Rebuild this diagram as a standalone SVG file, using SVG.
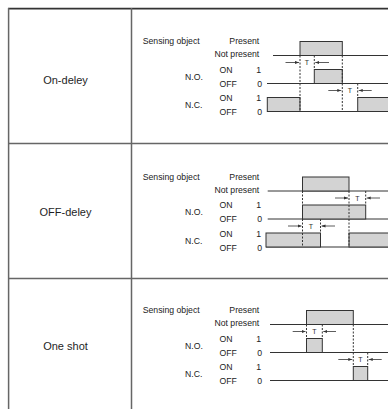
<svg xmlns="http://www.w3.org/2000/svg" width="388" height="409" viewBox="0 0 388 409">
  <defs>
    <style>
      .grid { stroke: #666; stroke-width: 1.5; fill: none; }
      .top { stroke: #333; stroke-width: 1.6; fill: none; }
      .txt { font-family: "Liberation Sans", Arial, sans-serif; font-size: 8.7px; fill: #222; }
      .end { text-anchor: end; }
      .big { font-family: "Liberation Sans", Arial, sans-serif; font-size: 11px; fill: #1e1e1e; text-anchor: middle; }
      .t { font-family: "Liberation Sans", Arial, sans-serif; font-size: 7px; fill: #333; text-anchor: middle; }
      .wave { stroke: #333; stroke-width: 1; fill: none; }
      .pulse { fill: #d3d3d3; stroke: #333; stroke-width: 1; }
      .dash { stroke: #333; stroke-width: 1; stroke-dasharray: 2 1.5; fill: none; }
      .arr { stroke: #333; stroke-width: 0.8; fill: none; marker-end: url(#ah); }
    </style>
    <marker id="ah" viewBox="0 0 6 6" refX="6" refY="3" markerWidth="4" markerHeight="4" orient="auto" markerUnits="userSpaceOnUse">
      <path d="M0,0.6 L6,3 L0,5.4 Z" fill="#333"/>
    </marker>
    <!-- row legend shared by all three charts -->
    <g id="legend">
      <text class="txt" x="142.7" y="2.5">Sensing object</text>
      <text class="txt end" x="259.3" y="2.5">Present</text>
      <text class="txt end" x="259.3" y="15.5">Not present</text>
      <text class="txt" x="219.5" y="31">ON</text>
      <text class="txt end" x="261" y="31">1</text>
      <text class="txt" x="185" y="38">N.O.</text>
      <text class="txt" x="219.5" y="45">OFF</text>
      <text class="txt end" x="262" y="45">0</text>
      <text class="txt" x="219.5" y="59.5">ON</text>
      <text class="txt end" x="261" y="59.5">1</text>
      <text class="txt" x="185" y="66.5">N.C.</text>
      <text class="txt" x="219.5" y="73.5">OFF</text>
      <text class="txt end" x="262" y="73.5">0</text>
    </g>
  </defs>

  <!-- table frame -->
  <g id="table">
    <line class="top" x1="8" y1="8.6" x2="388" y2="8.6"/>
    <line class="grid" x1="8.6" y1="8" x2="8.6" y2="409"/>
    <line class="grid" x1="131.5" y1="8" x2="131.5" y2="409"/>
    <line class="grid" x1="8" y1="143.5" x2="388" y2="143.5"/>
    <line class="grid" x1="8" y1="278.5" x2="388" y2="278.5"/>
  </g>

  <!-- mode names -->
  <g id="label-on-delay"><text class="big" x="65.5" y="84">On-deley</text></g>
  <g id="label-off-delay"><text class="big" x="65.5" y="216">OFF-deley</text></g>
  <g id="label-one-shot"><text class="big" x="65.5" y="350">One shot</text></g>

  <!-- On-delay timing chart -->
  <g id="chart-on-delay" transform="translate(0,41.5)">
    <use href="#legend"/>
    <line class="wave" x1="273" y1="14" x2="388" y2="14"/>
    <rect class="pulse" x="300" y="0" width="42.3" height="14"/>
    <line class="wave" x1="267" y1="42" x2="388" y2="42"/>
    <rect class="pulse" x="314.3" y="28" width="28" height="14"/>
    <line class="wave" x1="267" y1="70" x2="388" y2="70"/>
    <rect class="pulse" x="267.3" y="56" width="32.7" height="14"/>
    <rect class="pulse" x="357.7" y="56" width="40" height="14"/>
    <g id="on-delay-timing">
      <path class="dash" d="M300,14 V70 M342.3,14 V70 M314.3,14 V28 M357.7,42 V56"/>
      <line class="arr" x1="285.5" y1="21" x2="299" y2="21"/>
      <text class="t" x="307" y="23.5">T</text>
      <line class="arr" x1="329" y1="21" x2="315.3" y2="21"/>
      <line class="arr" x1="328.3" y1="49" x2="341.3" y2="49"/>
      <text class="t" x="350" y="51.5">T</text>
      <line class="arr" x1="371.7" y1="49" x2="358.7" y2="49"/>
    </g>
  </g>

  <!-- OFF-delay timing chart -->
  <g id="chart-off-delay" transform="translate(0,177)">
    <use href="#legend"/>
    <line class="wave" x1="267.7" y1="14" x2="388" y2="14"/>
    <rect class="pulse" x="302.5" y="0" width="46.5" height="14"/>
    <line class="wave" x1="267.7" y1="42" x2="388" y2="42"/>
    <rect class="pulse" x="302.5" y="28" width="63.2" height="14"/>
    <line class="wave" x1="266" y1="70" x2="388" y2="70"/>
    <rect class="pulse" x="266" y="56" width="54.5" height="14"/>
    <rect class="pulse" x="349" y="56" width="45" height="14"/>
    <g id="off-delay-timing">
      <path class="dash" d="M302.5,14 V70 M349,14 V70 M365.7,14 V28 M320.5,42 V56"/>
      <line class="arr" x1="335" y1="21" x2="348" y2="21"/>
      <text class="t" x="357.3" y="23.5">T</text>
      <line class="arr" x1="380" y1="21" x2="366.7" y2="21"/>
      <line class="arr" x1="288" y1="49" x2="301.5" y2="49"/>
      <text class="t" x="311" y="51.5">T</text>
      <line class="arr" x1="335" y1="49" x2="321.5" y2="49"/>
    </g>
  </g>

  <!-- One-shot timing chart -->
  <g id="chart-one-shot" transform="translate(0,310.5)">
    <use href="#legend"/>
    <line class="wave" x1="270" y1="14" x2="388" y2="14"/>
    <rect class="pulse" x="306.5" y="0" width="46.8" height="14"/>
    <line class="wave" x1="270" y1="42" x2="388" y2="42"/>
    <rect class="pulse" x="306.5" y="28" width="15.8" height="14"/>
    <line class="wave" x1="270" y1="70" x2="388" y2="70"/>
    <rect class="pulse" x="353.3" y="56" width="14.4" height="14"/>
    <g id="one-shot-timing">
      <path class="dash" d="M306.5,14 V28 M322.3,14 V28 M353.3,14 V56 M367.7,42 V56"/>
      <line class="arr" x1="292.7" y1="21" x2="305.5" y2="21"/>
      <text class="t" x="314.4" y="23.5">T</text>
      <line class="arr" x1="336" y1="21" x2="323.3" y2="21"/>
      <line class="arr" x1="338.3" y1="49" x2="352.3" y2="49"/>
      <text class="t" x="360.5" y="51.5">T</text>
      <line class="arr" x1="381.7" y1="49" x2="368.7" y2="49"/>
    </g>
  </g>
</svg>
